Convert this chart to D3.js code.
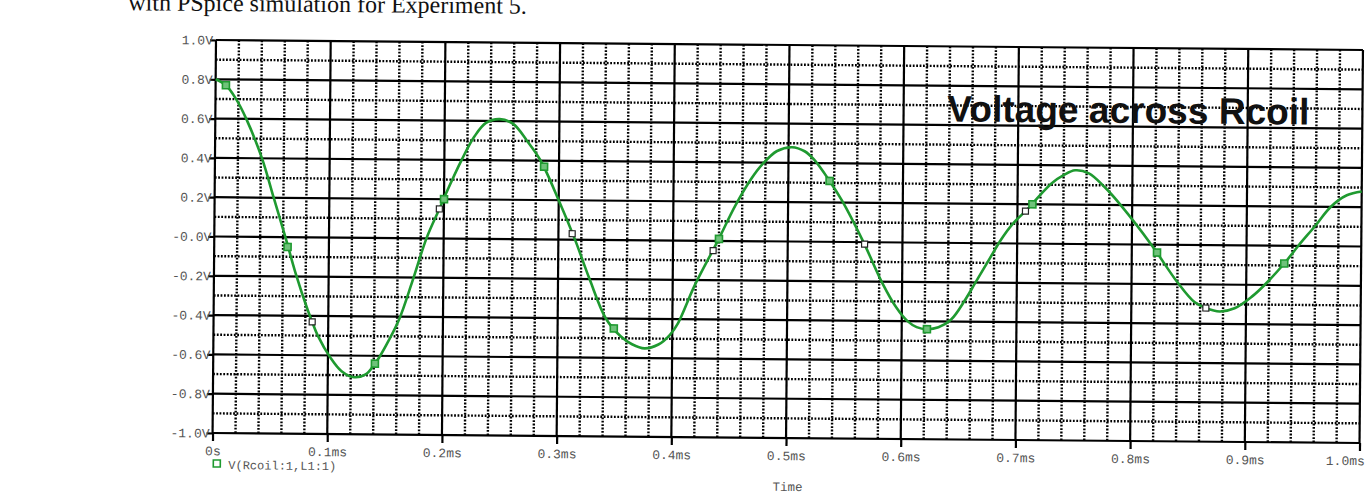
<!DOCTYPE html>
<html><head><meta charset="utf-8">
<script src="https://cdn.jsdelivr.net/npm/d3@7"></script>
<style>body{margin:0;background:#fff;overflow:hidden}svg{display:block}</style>
</head><body><svg id="c" width="1371" height="497"></svg>
<script>
// ---- data ----
const timeMs = [0,0.009,0.018,0.027,0.041,0.0515,0.062,0.071,0.082,0.086,0.091,0.102,0.112,0.123,0.133,0.141,0.1445,0.153,0.162,0.173,0.185,0.196,0.201,0.215,0.226,0.236,0.248,0.26,0.272,0.284,0.30,0.3145,0.3275,0.342,0.355,0.365,0.376,0.388,0.398,0.405,0.419,0.439,0.454,0.468,0.477,0.49,0.503,0.514,0.522,0.536,0.547,0.566,0.583,0.595,0.605,0.613,0.622,0.632,0.643,0.655,0.664,0.675,0.686,0.696,0.707,0.711,0.72,0.73,0.74,0.75,0.762,0.776,0.79,0.817,0.84,0.855,0.865,0.877,0.89,0.905,0.916,0.933,0.945,0.96,0.973,0.987,1.0];
const voltage = [0.80,0.77,0.70,0.60,0.40,0.20,0.00,-0.18,-0.37,-0.43,-0.50,-0.61,-0.68,-0.71,-0.695,-0.64,-0.61,-0.52,-0.41,-0.22,0.00,0.15,0.22,0.40,0.52,0.59,0.61,0.585,0.50,0.40,0.20,0.00,-0.20,-0.40,-0.49,-0.53,-0.55,-0.53,-0.48,-0.42,-0.23,0.00,0.18,0.32,0.39,0.46,0.48,0.46,0.42,0.31,0.21,0.00,-0.21,-0.33,-0.40,-0.43,-0.44,-0.43,-0.39,-0.29,-0.20,-0.09,0.02,0.10,0.165,0.19,0.25,0.31,0.35,0.375,0.36,0.29,0.20,0.00,-0.19,-0.29,-0.32,-0.337,-0.32,-0.26,-0.20,-0.09,0.00,0.105,0.20,0.26,0.28];
const greenMarkT = [0.009,0.064,0.141,0.200,0.287,0.349,0.440,0.536,0.622,0.713,0.822,0.933];
const greenMarkV = [0.77,-0.05,-0.64,0.20,0.37,-0.45,0.01,0.31,-0.44,0.20,-0.04,-0.09];
const whiteMarkT = [0.086,0.196,0.312,0.435,0.567,0.707,0.865];
const whiteMarkV = [-0.43,0.15,0.03,-0.05,-0.01,0.165,-0.32];
const xTicks = [0,0.1,0.2,0.3,0.4,0.5,0.6,0.7,0.8,0.9,1.0];
const xTickLabels = ["0s","0.1ms","0.2ms","0.3ms","0.4ms","0.5ms","0.6ms","0.7ms","0.8ms","0.9ms","1.0ms"];
const yTicks = [1.0,0.8,0.6,0.4,0.2,0,-0.2,-0.4,-0.6,-0.8,-1.0];
const yTickLabels = ["1.0V","0.8V","0.6V","0.4V","0.2V","-0.0V","-0.2V","-0.4V","-0.6V","-0.8V","-1.0V"];
const titleText = "Voltage across Rcoil";
const legendText = "V(Rcoil:1,L1:1)";
const xAxisTitle = "Time";
const headerText = "with PSpice simulation for Experiment 5.";

// ---- layout ----
const L = 216, R = 1363, T = 40, B = 433;
const green = "#1f9a30";
const svg = d3.select("#c");
const g = svg.append("g").attr("transform", `rotate(0.5,${L},${T})`);

const x = d3.scaleLinear().domain([0, 1]).range([L, R]);
const y = d3.scaleLinear().domain([-1, 1]).range([B, T]);

// header text (cut by the top of the page, as in the scan)
g.append("text").attr("x", 128).attr("y", 11)
  .attr("font-family", "Liberation Serif").attr("font-size", 24).attr("fill", "#111")
  .text(headerText);

// minor grid
const minorX = d3.range(0, 50).map(i => i * 0.02).filter((d, i) => i % 5 !== 0);
const minorY = d3.range(-9, 10, 2).map(i => i / 10);
const dotW = 2.4, dotDash = "1.8,1.6";
g.append("g").selectAll("line").data(minorX).join("line")
  .attr("x1", d => x(d)).attr("x2", d => x(d)).attr("y1", T).attr("y2", B)
  .attr("stroke", "#000").attr("stroke-width", dotW).attr("stroke-dasharray", dotDash);
g.append("g").selectAll("line").data(minorY).join("line")
  .attr("x1", L).attr("x2", R).attr("y1", d => y(d)).attr("y2", d => y(d))
  .attr("stroke", "#000").attr("stroke-width", dotW).attr("stroke-dasharray", dotDash);

// major grid
g.append("g").selectAll("line").data(xTicks).join("line")
  .attr("x1", d => x(d)).attr("x2", d => x(d)).attr("y1", T).attr("y2", B)
  .attr("stroke", "#000").attr("stroke-width", 2.2);
g.append("g").selectAll("line").data(yTicks).join("line")
  .attr("x1", L).attr("x2", R).attr("y1", d => y(d)).attr("y2", d => y(d))
  .attr("stroke", "#000").attr("stroke-width", 2.2);

// axes
const xAxis = d3.axisBottom(x).tickValues(xTicks).tickFormat((d, i) => xTickLabels[i])
  .tickSize(8).tickPadding(5);
const gx = g.append("g").attr("transform", `translate(0,${B})`).call(xAxis);
gx.select(".domain").remove();
gx.selectAll("line").attr("stroke", "#000").attr("stroke-width", 2.2);
gx.selectAll("text").attr("font-family", "Liberation Mono").attr("font-size", 13).attr("fill", "#555");
gx.selectAll("text").filter((d, i) => i === xTicks.length - 1).attr("text-anchor", "end").attr("x", 5);

const yAxis = d3.axisLeft(y).tickValues(yTicks).tickFormat((d, i) => yTickLabels[i])
  .tickSize(6).tickPadding(-3);
const gy = g.append("g").attr("transform", `translate(${L},0)`).call(yAxis);
gy.select(".domain").remove();
gy.selectAll("line").attr("stroke", "#000").attr("stroke-width", 2.2);
gy.selectAll("text").attr("font-family", "Liberation Mono").attr("font-size", 13).attr("fill", "#555");

// trace
const pts = timeMs.map((t, i) => [t, voltage[i]]);
g.append("path").datum(pts)
  .attr("fill", "none").attr("stroke", green).attr("stroke-width", 2.6)
  .attr("d", d3.line().x(d => x(d[0])).y(d => y(d[1])).curve(d3.curveCatmullRom.alpha(0.5)));

// markers
const gm = greenMarkT.map((t, i) => [t, greenMarkV[i]]);
g.append("g").selectAll("rect").data(gm).join("rect")
  .attr("x", d => x(d[0]) - 3.5).attr("y", d => y(d[1]) - 3.5).attr("width", 7).attr("height", 7)
  .attr("fill", "#6fc27a").attr("stroke", green).attr("stroke-width", 1.6);
const wm = whiteMarkT.map((t, i) => [t, whiteMarkV[i]]);
g.append("g").selectAll("rect").data(wm).join("rect")
  .attr("x", d => x(d[0]) - 3).attr("y", d => y(d[1]) - 3).attr("width", 6).attr("height", 6)
  .attr("fill", "#fff").attr("stroke", "#222").attr("stroke-width", 1.2);

// title
g.append("text").attr("x", 948).attr("y", 115)
  .attr("font-family", "Liberation Sans").attr("font-weight", "bold").attr("font-size", 37)
  .attr("textLength", 362).attr("lengthAdjust", "spacingAndGlyphs")
  .attr("fill", "#111").text(titleText);

// legend
g.append("rect").attr("x", 217).attr("y", 460).attr("width", 7).attr("height", 7)
  .attr("fill", "#fff").attr("stroke", green).attr("stroke-width", 1.6);
g.append("text").attr("x", 232).attr("y", 469)
  .attr("font-family", "Liberation Mono").attr("font-size", 12).attr("fill", "#555").text(legendText);

// x-axis title
g.append("text").attr("x", (L + R) / 2 + 2).attr("y", 486).attr("text-anchor", "middle")
  .attr("font-family", "Liberation Mono").attr("font-size", 12.5).attr("fill", "#555").text(xAxisTitle);
</script></body></html>
